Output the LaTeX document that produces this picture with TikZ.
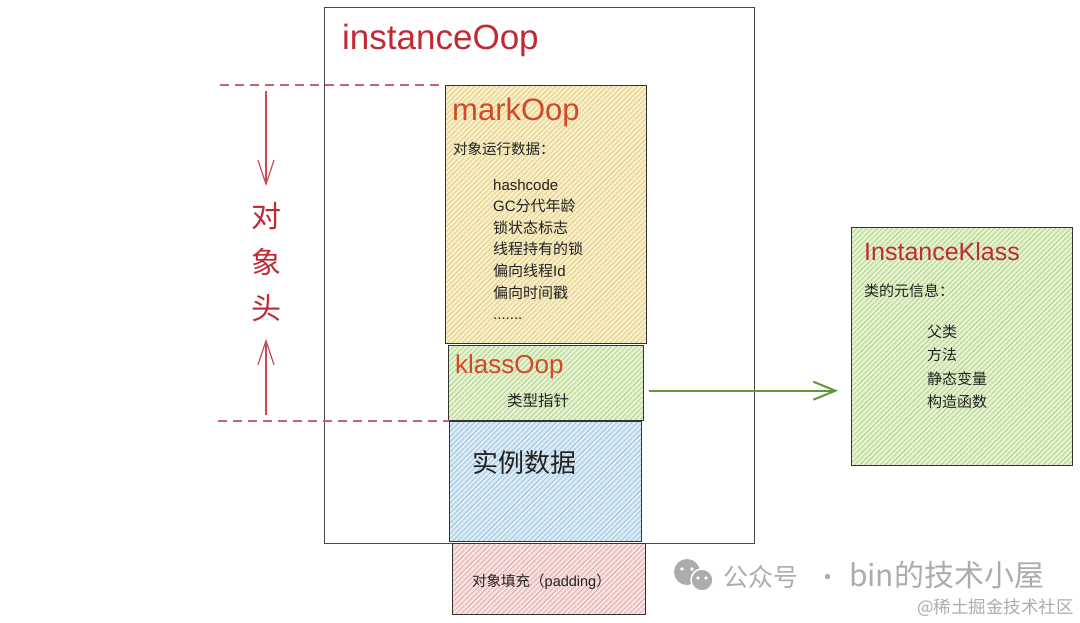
\documentclass[tikz,border=0pt]{standalone}
\usepackage{fontspec}
\setmainfont{Liberation Sans}
\newfontfamily\cjk{Noto Sans CJK SC}
\usepackage{xcolor}
\usepackage{tikz}
\usetikzlibrary{arrows.meta, positioning, calc, patterns.meta}
\definecolor{cred}{RGB}{192,42,52}
\definecolor{corange}{RGB}{212,72,40}
\definecolor{cink}{RGB}{34,34,34}
\definecolor{cdash}{RGB}{205,95,115}
\definecolor{cyellowbg}{RGB}{247,238,198}
\definecolor{cyellowln}{RGB}{222,198,125}
\definecolor{cgreenbg}{RGB}{229,242,208}
\definecolor{cgreenln}{RGB}{165,205,125}
\definecolor{cbluebg}{RGB}{220,234,244}
\definecolor{cblueln}{RGB}{140,188,222}
\definecolor{cpinkbg}{RGB}{247,226,226}
\definecolor{cpinkln}{RGB}{226,155,155}
\definecolor{carrow}{RGB}{96,152,52}
\definecolor{cwater}{RGB}{172,172,172}
\newcommand{\moredots}{.......}

\begin{document}
\begin{tikzpicture}[
    x=1pt, y=-1pt,
    every node/.style={text=cink, inner sep=0pt},
    part/.style={draw=black!80, line width=1.4pt, anchor=north west},
    hatch/.style 2 args={preaction={fill=#1},
        pattern={Lines[angle=45, distance=3.6pt, line width=0.6pt]}, pattern color=#2},
    bigtitle/.style={anchor=base west, font=\fontsize{35}{35}\selectfont},
    boxtitle/.style={anchor=base west, font=\fontsize{26}{26}\selectfont},
    item/.style={anchor=base west, font=\fontsize{15}{15}\selectfont},
    guide/.style={draw=cdash, line width=1.2pt, dash pattern=on 9pt off 6pt},
    headarrow/.style={draw=cred!85, line width=1.2pt, -{Straight Barb[length=24pt, width=16pt]}},
    flow/.style={draw=carrow, line width=1.8pt, -{Straight Barb[length=22pt, width=18pt, line width=2pt]}},
]
    \useasboundingbox (0,0) rectangle (1080,622);

    % instanceOop frame
    \node[part, draw=black!72, line width=1.1pt, minimum width=430pt, minimum height=536pt] (inst) at (324,7) {};
    \node[bigtitle, text=cred] (insttitle) at (342,49) {instanceOop};

    % markOop
    \node[part, hatch={cyellowbg}{cyellowln}, minimum width=201pt, minimum height=258pt] (mark) at (445,85) {};
    \node[boxtitle, text=corange, font=\fontsize{31}{31}\selectfont] (marktitle) at (452,120) {markOop};
    \node[item, font=\fontsize{14.5}{14.5}\selectfont] (markhead) at (453,154) {\cjk 对象运行数据：};
    \foreach \txt [count=\i] in {hashcode, {GC{\cjk 分代年龄}}, {\cjk 锁状态标志}, {\cjk 线程持有的锁},
        {{\cjk 偏向线程}Id}, {\cjk 偏向时间戳}, \moredots}
        \node[item] (markitem\i) at (493,168.4+21.6*\i) {\txt};

    % klassOop
    \node[part, hatch={cgreenbg}{cgreenln}, minimum width=195pt, minimum height=75pt] (klass) at (448,345) {};
    \node[boxtitle, text=corange] (klasstitle) at (455,373) {klassOop};
    \node[item, font=\fontsize{15.5}{15.5}\selectfont] (klassitem) at (507,406) {\cjk 类型指针};

    % instance data
    \node[part, hatch={cbluebg}{cblueln}, minimum width=192pt, minimum height=120pt] (data) at (449,421) {};
    \node[boxtitle, font=\fontsize{26}{26}\selectfont] (datatitle) at (472,472) {\cjk 实例数据};

    % padding
    \node[part, hatch={cpinkbg}{cpinkln}, minimum width=193pt, minimum height=71pt] (pad) at (452,543) {};
    \node[item, font=\fontsize{14.5}{14.5}\selectfont] (padtitle) at (472,586) {{\cjk 对象填充（}padding{\cjk ）}};

    % InstanceKlass
    \node[part, hatch={cgreenbg}{cgreenln}, minimum width=221pt, minimum height=238pt] (ik) at (851,227) {};
    \node[boxtitle, text=cred, font=\fontsize{25}{25}\selectfont] (iktitle) at (864,260) {InstanceKlass};
    \node[item] (ikhead) at (864,296) {\cjk 类的元信息：};
    \foreach \txt [count=\i] in {父类, 方法, 静态变量, 构造函数}
        \node[item] (ikitem\i) at (927,313.5+23.5*\i) {\cjk \txt};

    % klass pointer
    \draw[flow, shorten <=5pt, shorten >=13pt] ([yshift=-7.5pt]klass.east) -- ([yshift=-7.5pt]klass.east -| ik.west);

    % object header marker
    \coordinate (htop) at (220,85);
    \coordinate (hbot) at (218,421);
    \draw[guide] (htop) -- (mark.north west);
    \draw[guide] (hbot) -- (data.north west);
    \node[align=center, text=cred, font=\fontsize{30}{46}\selectfont\cjk] (head) at (266,261.6) {对\\象\\头};
    \draw[headarrow, shorten <=6pt, shorten >=15.6pt] (htop -| head) -- (head.north);
    \draw[headarrow, shorten <=6pt, shorten >=17.4pt] (hbot -| head) -- (head.south);

    % watermark
    \fill[cwater] (687,572) circle (13);
    \fill[cwater, draw=white, line width=1.5pt] (702,580) circle (11);
    \foreach \p in {(682,569), (692,569), (698,578), (706,578)}
        \fill[white] \p circle (1.8);
    \node[anchor=base west, text=cwater, font=\fontsize{25}{25}\selectfont\cjk] (water) at (723,586)
        {公众号\hspace{17pt}·\hspace{9pt}{\fontsize{30}{30}\selectfont bin的技术小屋}};
    \node[anchor=base east, text=cwater, font=\fontsize{17.5}{17.5}\selectfont\cjk] (watersite) at (1074,613) {@稀土掘金技术社区};
\end{tikzpicture}
\end{document}
